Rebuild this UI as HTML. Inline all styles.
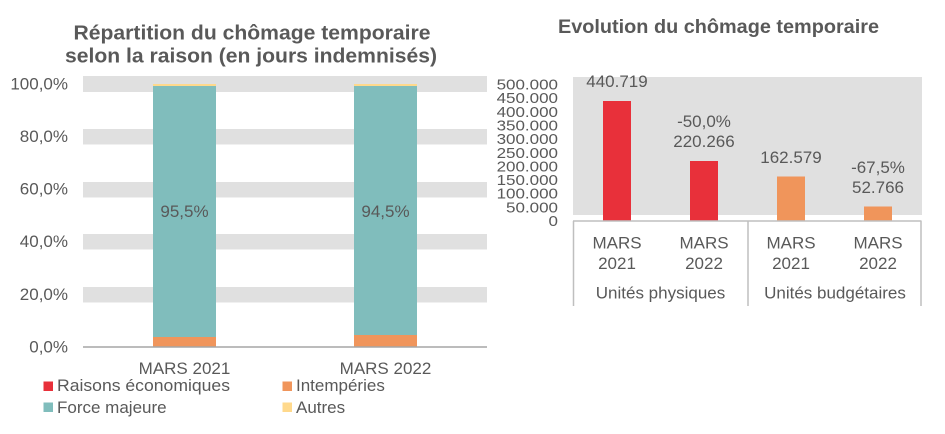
<!DOCTYPE html>
<html><head><meta charset="utf-8"><style>
html,body{margin:0;padding:0;background:#fff;}
svg{display:block;}
text{font-family:"Liberation Sans",Arial,sans-serif;fill:#595959;}
</style></head><body>
<svg width="945" height="434" viewBox="0 0 945 434" xmlns="http://www.w3.org/2000/svg">
<!-- LEFT CHART -->
<text x="252" y="39.5" font-size="20" font-weight="bold" text-anchor="middle" textLength="357" lengthAdjust="spacingAndGlyphs">Répartition du chômage temporaire</text>
<text x="251" y="62.5" font-size="20" font-weight="bold" text-anchor="middle" textLength="372" lengthAdjust="spacingAndGlyphs">selon la raison (en jours indemnisés)</text>
<!-- bands -->
<g fill="#E0E0E0">
<rect x="83" y="76" width="404" height="16"/>
<rect x="83" y="129" width="404" height="15.5"/>
<rect x="83" y="182" width="404" height="15.5"/>
<rect x="83" y="234" width="404" height="15.5"/>
<rect x="83" y="287" width="404" height="15.5"/>
</g>
<g font-size="17" text-anchor="end">
<text x="68" y="89.5">100,0%</text>
<text x="68" y="142">80,0%</text>
<text x="68" y="194.5">60,0%</text>
<text x="68" y="247">40,0%</text>
<text x="68" y="300">20,0%</text>
<text x="68" y="352.5">0,0%</text>
</g>
<!-- bars -->
<rect x="153" y="84" width="63" height="2" fill="#FFD98C"/>
<rect x="153" y="86" width="63" height="251" fill="#80BDBC"/>
<rect x="153" y="337" width="63" height="10" fill="#F0955B"/>
<rect x="354" y="84" width="63" height="2" fill="#FFD98C"/>
<rect x="354" y="86" width="63" height="249" fill="#80BDBC"/>
<rect x="354" y="335" width="63" height="12" fill="#F0955B"/>
<line x1="83" y1="347" x2="487" y2="347" stroke="#A6A6A6" stroke-width="1.5"/>
<g font-size="17" text-anchor="middle">
<text x="184.5" y="217">95,5%</text>
<text x="385.5" y="217">94,5%</text>
<text x="184.5" y="374">MARS 2021</text>
<text x="385.5" y="374">MARS 2022</text>
</g>
<!-- legend -->
<rect x="43.5" y="381.5" width="9.5" height="9.5" fill="#E8303A"/>
<rect x="43.5" y="402.5" width="9.5" height="9.5" fill="#80BDBC"/>
<rect x="282.5" y="381.5" width="9.5" height="9.5" fill="#F0955B"/>
<rect x="282.5" y="402.5" width="9.5" height="9.5" fill="#FFD98C"/>
<g font-size="17">
<text x="57" y="391" textLength="173" lengthAdjust="spacingAndGlyphs">Raisons économiques</text>
<text x="57" y="413">Force majeure</text>
<text x="296" y="391">Intempéries</text>
<text x="296" y="413">Autres</text>
</g>

<!-- RIGHT CHART -->
<text x="718.5" y="33" font-size="19" font-weight="bold" text-anchor="middle" textLength="321" lengthAdjust="spacingAndGlyphs">Evolution du chômage temporaire</text>
<rect x="573" y="77" width="349" height="138" fill="#E0E0E0"/>
<g font-size="17" text-anchor="end">
<text transform="translate(558,89.5) scale(1,0.88)">500.000</text>
<text transform="translate(558,103.15) scale(1,0.88)">450.000</text>
<text transform="translate(558,116.8) scale(1,0.88)">400.000</text>
<text transform="translate(558,130.45) scale(1,0.88)">350.000</text>
<text transform="translate(558,144.1) scale(1,0.88)">300.000</text>
<text transform="translate(558,157.75) scale(1,0.88)">250.000</text>
<text transform="translate(558,171.4) scale(1,0.88)">200.000</text>
<text transform="translate(558,185.05) scale(1,0.88)">150.000</text>
<text transform="translate(558,198.7) scale(1,0.88)">100.000</text>
<text transform="translate(558,212.35) scale(1,0.88)">50.000</text>
<text transform="translate(558,226) scale(1,0.88)">0</text>
</g>
<rect x="603" y="101" width="28" height="120" fill="#E8303A"/>
<rect x="690" y="161" width="28" height="60" fill="#E8303A"/>
<rect x="777" y="176.5" width="28" height="44.5" fill="#F0955B"/>
<rect x="864" y="206.5" width="28" height="14.5" fill="#F0955B"/>
<g stroke="#BFBFBF" stroke-width="1.5" fill="none">
<line x1="573" y1="221" x2="921.5" y2="221"/>
<line x1="573.5" y1="221" x2="573.5" y2="306"/>
<line x1="748" y1="221" x2="748" y2="306"/>
<line x1="921" y1="221" x2="921" y2="306"/>
</g>
<g font-size="17" text-anchor="middle">
<text x="617" y="87">440.719</text>
<text x="704" y="127">-50,0%</text>
<text x="704" y="147">220.266</text>
<text x="791" y="163">162.579</text>
<text x="878" y="173">-67,5%</text>
<text x="878" y="193">52.766</text>
<text x="617" y="248.5">MARS</text>
<text x="617" y="269">2021</text>
<text x="704" y="248.5">MARS</text>
<text x="704" y="269">2022</text>
<text x="791" y="248.5">MARS</text>
<text x="791" y="269">2021</text>
<text x="878" y="248.5">MARS</text>
<text x="878" y="269">2022</text>
<text x="660.5" y="298.5">Unités physiques</text>
<text x="835" y="298.5">Unités budgétaires</text>
</g>
</svg>
</body></html>
